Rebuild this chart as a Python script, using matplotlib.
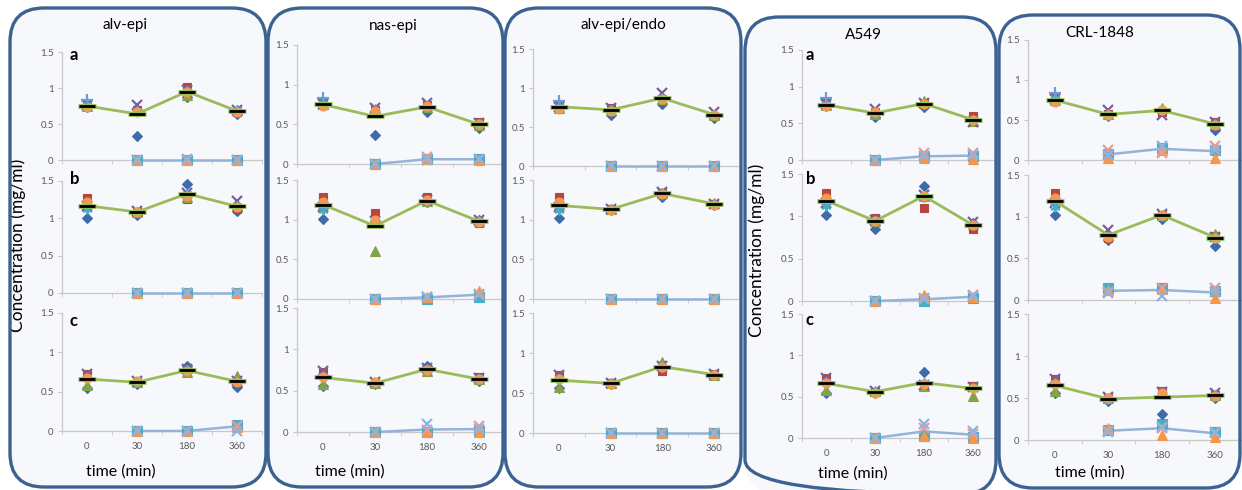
import numpy as np
import matplotlib
matplotlib.use('Agg')
import matplotlib.pyplot as plt
from matplotlib.patches import FancyBboxPatch

nan = np.nan

# ---------------- data ----------------
times = ['0', '30', '180', '360']
columns = ['alv-epi', 'nas-epi', 'alv-epi/endo', 'A549', 'CRL-1848']
rows = ['a', 'b', 'c']

# group 1 (upper, green line): mean values at 0, 30, 180, 360 min
mean1_c1_a = [0.75, 0.64, 0.95, 0.68]
mean1_c1_b = [1.17, 1.085, 1.33, 1.16]
mean1_c1_c = [0.66, 0.62, 0.77, 0.63]
mean1_c2_a = [0.75, 0.60, 0.72, 0.50]
mean1_c2_b = [1.19, 0.92, 1.24, 0.98]
mean1_c2_c = [0.66, 0.59, 0.76, 0.64]
mean1_c3_a = [0.76, 0.72, 0.87, 0.66]
mean1_c3_b = [1.18, 1.13, 1.33, 1.20]
mean1_c3_c = [0.66, 0.62, 0.83, 0.73]
mean1_c4_a = [0.75, 0.64, 0.77, 0.55]
mean1_c4_b = [1.185, 0.945, 1.24, 0.90]
mean1_c4_c = [0.66, 0.56, 0.67, 0.60]
mean1_c5_a = [0.75, 0.57, 0.62, 0.45]
mean1_c5_b = [1.19, 0.78, 1.02, 0.75]
mean1_c5_c = [0.65, 0.49, 0.51, 0.53]

# group 1 replicates: diamond, square, triangle, x, star, circle, plus
rep1_c1_a = [[0.74, 0.33, 0.88, 0.64], [0.78, 0.70, 1.01, 0.66], [0.75, 0.72, 0.90, 0.70],
             [0.76, 0.76, 0.97, 0.70], [0.77, 0.68, 0.96, 0.69], [0.73, 0.66, 0.95, 0.67],
             [0.83, nan, nan, nan]]
rep1_c1_b = [[1.01, 1.05, 1.46, 1.10], [1.27, 1.09, 1.26, 1.13], [1.20, 1.08, 1.28, 1.18],
             [1.16, 1.10, 1.34, 1.23], [1.12, 1.09, 1.33, 1.17], [1.22, 1.08, 1.30, 1.15],
             [nan, nan, nan, nan]]
rep1_c1_c = [[0.55, 0.60, 0.82, 0.56], [0.73, 0.63, 0.76, 0.62], [0.58, 0.62, 0.75, 0.70],
             [0.73, 0.64, 0.79, 0.64], [0.68, 0.62, 0.77, 0.63], [0.67, 0.63, 0.76, 0.62],
             [nan, nan, nan, nan]]
rep1_c2_a = [[0.74, 0.36, 0.66, 0.45], [0.78, 0.68, 0.74, 0.53], [0.75, 0.69, 0.72, 0.49],
             [0.76, 0.70, 0.77, 0.52], [0.77, 0.66, 0.72, 0.50], [0.73, 0.67, 0.73, 0.50],
             [0.83, nan, nan, nan]]
rep1_c2_b = [[1.01, 0.98, 1.22, 0.99], [1.28, 1.08, 1.28, 0.96], [1.20, 0.61, 1.23, 0.98],
             [1.16, 0.98, 1.25, 1.00], [1.12, 0.97, 1.24, 0.98], [1.22, 0.99, 1.25, 0.97],
             [nan, nan, nan, nan]]
rep1_c2_c = [[0.56, 0.58, 0.80, 0.62], [0.73, 0.60, 0.74, 0.66], [0.58, 0.59, 0.74, 0.64],
             [0.74, 0.60, 0.78, 0.65], [0.68, 0.59, 0.76, 0.64], [0.67, 0.60, 0.75, 0.64],
             [nan, nan, nan, nan]]
rep1_c3_a = [[0.74, 0.66, 0.80, 0.62], [0.78, 0.75, 0.83, 0.64], [0.75, 0.72, 0.86, 0.65],
             [0.76, 0.74, 0.93, 0.69], [0.77, 0.72, 0.87, 0.66], [0.73, 0.71, 0.86, 0.65],
             [0.83, nan, nan, nan]]
rep1_c3_b = [[1.02, 1.12, 1.28, 1.19], [1.28, 1.14, 1.34, 1.20], [1.20, 1.13, 1.33, 1.21],
             [1.16, 1.14, 1.35, 1.20], [1.12, 1.13, 1.33, 1.20], [1.22, 1.12, 1.32, 1.19],
             [nan, nan, nan, nan]]
rep1_c3_c = [[0.56, 0.61, 0.82, 0.72], [0.73, 0.62, 0.78, 0.74], [0.58, 0.62, 0.89, 0.73],
             [0.73, 0.63, 0.84, 0.74], [0.68, 0.62, 0.83, 0.73], [0.67, 0.61, 0.82, 0.72],
             [nan, nan, nan, nan]]
rep1_c4_a = [[0.74, 0.59, 0.72, 0.53], [0.78, 0.66, 0.77, 0.60], [0.75, 0.63, 0.80, 0.53],
             [0.76, 0.70, 0.78, 0.52], [0.77, 0.64, 0.77, 0.55], [0.73, 0.65, 0.76, 0.54],
             [0.84, nan, nan, nan]]
rep1_c4_b = [[1.02, 0.85, 1.36, 0.92], [1.28, 0.98, 1.10, 0.85], [1.20, 0.95, 1.24, 0.91],
             [1.16, 0.96, 1.25, 0.93], [1.12, 0.94, 1.23, 0.90], [1.22, 0.95, 1.24, 0.90],
             [nan, nan, nan, nan]]
rep1_c4_c = [[0.55, 0.55, 0.80, 0.60], [0.73, 0.56, 0.64, 0.63], [0.58, 0.57, 0.63, 0.51],
             [0.73, 0.57, 0.64, 0.62], [0.68, 0.56, 0.66, 0.60], [0.67, 0.55, 0.65, 0.60],
             [nan, nan, nan, nan]]
rep1_c5_a = [[0.74, 0.55, 0.63, 0.38], [0.78, 0.58, 0.60, 0.47], [0.75, 0.57, 0.65, 0.45],
             [0.76, 0.63, 0.56, 0.47], [0.77, 0.57, 0.62, 0.45], [0.73, 0.56, 0.62, 0.44],
             [0.84, nan, nan, nan]]
rep1_c5_b = [[1.02, 0.72, 0.97, 0.65], [1.28, 0.74, 1.02, 0.77], [1.20, 0.78, 1.02, 0.79],
             [1.16, 0.84, 1.03, 0.76], [1.12, 0.77, 1.01, 0.75], [1.22, 0.76, 1.02, 0.75],
             [nan, nan, nan, nan]]
rep1_c5_c = [[0.56, 0.47, 0.31, 0.50], [0.73, 0.50, 0.58, 0.54], [0.58, 0.50, 0.56, 0.53],
             [0.73, 0.51, 0.57, 0.56], [0.68, 0.49, 0.55, 0.53], [0.67, 0.50, 0.56, 0.52],
             [nan, nan, nan, nan]]

# group 2 (lower, light blue line): mean values at 30, 180, 360 min
mean2_c1_a = [0.0, 0.0, 0.0]
mean2_c1_b = [0.0, 0.0, 0.0]
mean2_c1_c = [0.0, 0.0, 0.06]
mean2_c2_a = [0.0, 0.06, 0.06]
mean2_c2_b = [0.0, 0.02, 0.055]
mean2_c2_c = [0.0, 0.03, 0.035]
mean2_c3_a = [0.0, 0.0, 0.0]
mean2_c3_b = [0.0, 0.0, 0.0]
mean2_c3_c = [0.0, 0.0, 0.0]
mean2_c4_a = [0.0, 0.05, 0.06]
mean2_c4_b = [0.0, 0.02, 0.05]
mean2_c4_c = [0.0, 0.08, 0.04]
mean2_c5_a = [0.07, 0.14, 0.11]
mean2_c5_b = [0.11, 0.12, 0.09]
mean2_c5_c = [0.11, 0.14, 0.08]

# group 2 replicates: square, triangle, pink x, blue x
rep2_c1_a = [[0, 0, 0], [0, 0, 0], [0, 0.0, 0], [0, 0.02, 0]]
rep2_c1_b = [[0, 0, 0], [0, 0, 0], [0, 0, 0], [0, 0, 0]]
rep2_c1_c = [[0, 0, 0.07], [0, 0, 0.05], [0, 0, 0.06], [0, 0, 0.0]]
rep2_c2_a = [[0, 0.06, 0.06], [0, 0.06, 0.05], [0, 0.09, 0.06], [0, 0.05, 0.06]]
rep2_c2_b = [[0, 0.0, 0.03], [0, 0.02, 0.10], [0, 0.03, 0.06], [0, 0.02, 0.05]]
rep2_c2_c = [[0, 0.0, 0.01], [0, 0.0, 0.0], [0, 0.03, 0.07], [0, 0.10, 0.04]]
rep2_c3_a = [[0, 0, 0], [0, 0, 0], [0, 0, 0], [0, 0, 0]]
rep2_c3_b = [[0, 0, 0], [0, 0, 0], [0, 0, 0], [0, 0, 0]]
rep2_c3_c = [[0, 0, 0], [0, 0, 0], [0, 0, 0], [0, 0, 0]]
rep2_c4_a = [[0, 0.05, 0.06], [0, 0.03, 0.02], [0, 0.10, 0.10], [0, 0.06, 0.07]]
rep2_c4_b = [[0, 0.0, 0.03], [0, 0.07, 0.05], [0, 0.03, 0.07], [0, 0.02, 0.06]]
rep2_c4_c = [[0, 0.02, 0.01], [0, 0.02, 0.0], [0, 0.12, 0.05], [0, 0.17, 0.09]]
rep2_c5_a = [[0.07, 0.15, 0.12], [0.03, 0.13, 0.02], [0.12, 0.09, 0.17], [0.06, 0.18, 0.12]]
rep2_c5_b = [[0.15, 0.15, 0.11], [0.12, 0.13, 0.03], [0.08, 0.14, 0.14], [0.10, 0.05, 0.10]]
rep2_c5_c = [[0.12, 0.19, 0.10], [0.14, 0.06, 0.03], [0.11, 0.14, 0.08], [0.10, 0.15, 0.09]]

MEAN1 = [[mean1_c1_a, mean1_c1_b, mean1_c1_c], [mean1_c2_a, mean1_c2_b, mean1_c2_c],
         [mean1_c3_a, mean1_c3_b, mean1_c3_c], [mean1_c4_a, mean1_c4_b, mean1_c4_c],
         [mean1_c5_a, mean1_c5_b, mean1_c5_c]]
REP1 = [[rep1_c1_a, rep1_c1_b, rep1_c1_c], [rep1_c2_a, rep1_c2_b, rep1_c2_c],
        [rep1_c3_a, rep1_c3_b, rep1_c3_c], [rep1_c4_a, rep1_c4_b, rep1_c4_c],
        [rep1_c5_a, rep1_c5_b, rep1_c5_c]]
MEAN2 = [[mean2_c1_a, mean2_c1_b, mean2_c1_c], [mean2_c2_a, mean2_c2_b, mean2_c2_c],
         [mean2_c3_a, mean2_c3_b, mean2_c3_c], [mean2_c4_a, mean2_c4_b, mean2_c4_c],
         [mean2_c5_a, mean2_c5_b, mean2_c5_c]]
REP2 = [[rep2_c1_a, rep2_c1_b, rep2_c1_c], [rep2_c2_a, rep2_c2_b, rep2_c2_c],
        [rep2_c3_a, rep2_c3_b, rep2_c3_c], [rep2_c4_a, rep2_c4_b, rep2_c4_c],
        [rep2_c5_a, rep2_c5_b, rep2_c5_c]]

# ---------------- styles ----------------
W, H = 1242, 490
plt.rcParams['font.family'] = ['Lato', 'DejaVu Sans']

rep1_styles = [
    dict(marker='D', color='#3F6BAA', ms=5.5),
    dict(marker='s', color='#B8463F', ms=6),
    dict(marker='^', color='#82A447', ms=6.5),
    dict(marker='x', color='#7B5E9E', ms=6.5, mew=1.6),
    dict(marker=(6, 2, 0), color='#4BACC6', ms=7, mew=1.4),
    dict(marker='o', color='#F29A52', ms=6.5),
    dict(marker='+', color='#6E9BD6', ms=8, mew=1.6),
]
rep2_styles = [
    dict(marker='s', color='#4BACC6', ms=6.5),
    dict(marker='^', color='#F79646', ms=6.5),
    dict(marker='x', color='#E59C98', ms=6.5, mew=1.6),
    dict(marker='x', color='#8EB4E3', ms=6.5, mew=1.6),
]

# geometry (pixels): y-axis left edge, category spacing, right limit, rows (top=1.5, bottom=0)
col_geom = [
    (62, 50.0, 265, [(52, 160), (181, 293), (313, 431)]),
    (297, 52.0, 505, [(45, 164), (180, 299), (308, 432)]),
    (533, 51.7, 740, [(49, 166), (180, 299), (313, 433)]),
    (802, 54.0, 997, [(50, 160), (174, 301), (314, 438)]),
    (1028, 54.0, 1242, [(40, 160), (175, 300), (314, 440)]),
]
boxes = [(10, 8, 266, 487), (268, 8, 503, 487), (505, 8, 741, 487),
         (745, 17, 996, 494), (999, 15, 1240, 488)]
title_pos = [(125, 25), (393, 26), (623, 25), (863, 35), (1100, 33)]
letter_cols = {0: [(70, 55), (70, 179), (69, 321)], 3: [(806, 55), (806, 179), (805, 320)]}
ylabel_pos = {0: (18, 245), 3: (757, 250)}
xlabel_pos = {0: (121, 472), 1: (350, 472), 3: (853, 474), 4: (1090, 473)}

fig = plt.figure(figsize=(W / 100, H / 100), dpi=100)
fig.patch.set_facecolor('white')

def fx(x):
    return x / W

def fy(y):
    return 1 - y / H

# background boxes
bg = fig.add_axes([0, 0, 1, 1], zorder=0)
bg.set_xlim(0, W)
bg.set_ylim(H, 0)
bg.axis('off')
for (x0, y0, x1, y1) in boxes:
    bg.add_patch(FancyBboxPatch((x0, y0), x1 - x0, y1 - y0,
                                boxstyle='round,pad=0,rounding_size=34',
                                facecolor='#F6F8FB', edgecolor='none'))

for ci, (left, sp, rlim, rowg) in enumerate(col_geom):
    right = min(left + 4 * sp, rlim)
    xmax = (right - left) / sp - 0.5
    for ri, (top, bot) in enumerate(rowg):
        ax = fig.add_axes([fx(left), fy(bot), fx(right - left), (bot - top) / H], zorder=2)
        ax.set_facecolor('none')
        ax.set_xlim(-0.5, xmax)
        ax.set_ylim(0, 1.5)
        for s in ['top', 'right']:
            ax.spines[s].set_visible(False)
        for s in ['left', 'bottom']:
            ax.spines[s].set_color('#C8C8C8')
            ax.spines[s].set_linewidth(0.9)
        ax.set_yticks([0, 0.5, 1, 1.5])
        ax.set_yticklabels(['0', '0.5', '1', '1.5'])
        ax.tick_params(axis='y', length=3, color='#C8C8C8', labelsize=7,
                       labelcolor='#595959', pad=3)
        ax.set_xticks([0, 1, 2, 3])
        ax.set_xticks([-0.5, 0.5, 1.5, 2.5, 3.5], minor=True)
        ax.tick_params(axis='x', which='minor', length=3, color='#C8C8C8')
        ax.tick_params(axis='x', which='major', length=0, labelsize=7,
                       labelcolor='#595959', pad=8)
        if ri == 2:
            ax.set_xticklabels(times)
        else:
            ax.set_xticklabels([])

        x1 = np.arange(4)
        x2 = np.arange(1, 4)
        # group 2 line and markers
        ax.plot(x2, MEAN2[ci][ri], color='#95B3D7', lw=1.8, zorder=3, clip_on=False)
        for vals, st in zip(REP2[ci][ri], rep2_styles):
            ax.plot(x2, vals, ls='none', marker=st['marker'], color=st['color'],
                    ms=st['ms'], mew=st.get('mew', 0.8), mec=st['color'],
                    zorder=4, clip_on=False)
        # group 1 replicate markers
        for vals, st in zip(REP1[ci][ri], rep1_styles):
            ax.plot(x1, vals, ls='none', marker=st['marker'], color=st['color'],
                    ms=st['ms'], mew=st.get('mew', 0.8), mec=st['color'],
                    zorder=5, clip_on=False)
        # mean line with dash markers
        ax.plot(x1, MEAN1[ci][ri], color='#9BBB59', lw=2, zorder=6, clip_on=False)
        ax.plot(x1, MEAN1[ci][ri], ls='none', marker='_', ms=13, mew=3.4,
                color='#9BBB59', zorder=7, clip_on=False)
        ax.plot(x1, MEAN1[ci][ri], ls='none', marker='_', ms=12, mew=2.0,
                color='black', zorder=8, clip_on=False)

# foreground box borders
fg = fig.add_axes([0, 0, 1, 1], zorder=10)
fg.set_xlim(0, W)
fg.set_ylim(H, 0)
fg.axis('off')
fg.patch.set_alpha(0)
for (x0, y0, x1_, y1) in boxes:
    fg.add_patch(FancyBboxPatch((x0, y0), x1_ - x0, y1 - y0,
                                boxstyle='round,pad=0,rounding_size=34',
                                facecolor='none', edgecolor='#3B6291', lw=2.4))

for name, (x, y) in zip(columns, title_pos):
    fig.text(fx(x), fy(y), name, ha='center', va='center', fontsize=11, color='black')
for ci, plist in letter_cols.items():
    for lab, (x, y) in zip(rows, plist):
        fig.text(fx(x), fy(y), lab, ha='left', va='center', fontsize=12,
                 fontweight='bold', color='black', zorder=12)
for ci, (x, y) in ylabel_pos.items():
    fig.text(fx(x), fy(y), 'Concentration (mg/ml)', ha='center', va='center',
             rotation=90, fontsize=12.5, color='black')
for ci, (x, y) in xlabel_pos.items():
    fig.text(fx(x), fy(y), 'time (min)', ha='center', va='center', fontsize=11.5,
             color='black')

fig.savefig('out.png', dpi=100, facecolor='white')
